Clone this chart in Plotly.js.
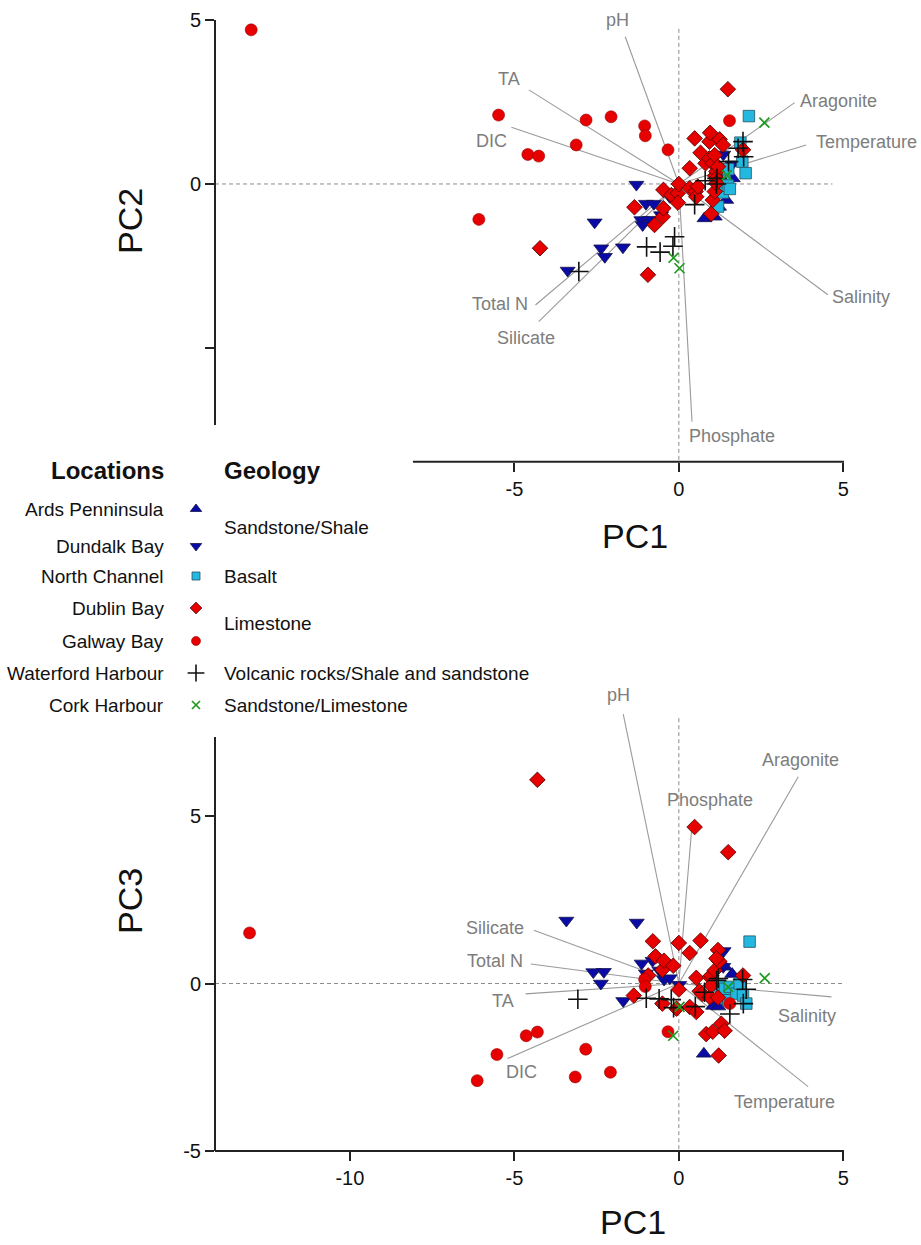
<!DOCTYPE html>
<html><head><meta charset="utf-8">
<script src="https://cdn.plot.ly/plotly-3.0.1.min.js"></script>
<style>html,body{margin:0;padding:0;background:#fff}#chart{width:921px;height:1245px}</style>
</head><body><div id="chart"></div>
<script>
// ---------------- DATA ----------------
const locations = ['Ards Penninsula','Dundalk Bay','North Channel','Dublin Bay','Galway Bay','Waterford Harbour','Cork Harbour'];
const geology = ['Sandstone/Shale','Basalt','Limestone','Volcanic rocks/Shale and sandstone','Sandstone/Limestone'];

// Top panel: PC1 vs PC2
const ardsTopPC1 = [0.78, 1.09, 1.22, 1.44, 1.64];
const ardsTopPC2 = [-1.05, -1.00, -0.70, -0.49, 0.17];
const dundalkTopPC1 = [-3.38, -2.56, -2.36, -2.25, -1.70, -1.29, -1.14, -1.10, -1.00, -0.89, -0.76, -0.54, -0.28, 1.35, 1.62];
const dundalkTopPC2 = [-2.64, -1.17, -1.96, -2.22, -1.93, -0.02, -1.10, -1.25, -0.60, -1.09, -0.60, -0.95, -0.39, 0.90, 0.60];
const northTopPC1 = [1.19, 1.34, 1.40, 1.49, 1.50, 1.55, 1.87, 1.93, 2.03, 2.13];
const northTopPC2 = [-0.69, -0.26, 0.12, -0.05, 0.45, -0.15, 1.26, 0.68, 0.33, 2.07];
const dublinTopPC1 = [-4.22, -1.35, -0.94, -0.74, -0.49, -0.47, -0.47, -0.23, -0.03, -0.03, 0.00, 0.33, 0.33, 0.48, 0.51, 0.53, 0.58, 0.66, 0.81, 0.93, 0.93, 0.95, 0.98, 1.03, 1.03, 1.09, 1.09, 1.10, 1.14, 1.14, 1.14, 1.19, 1.24, 1.34, 1.49, 1.95];
const dublinTopPC2 = [-1.96, -0.71, -2.77, -1.25, -1.00, -0.18, -0.74, -0.34, -0.28, -0.57, 0.00, 0.48, -0.13, 1.39, -0.23, -0.39, -0.08, 0.95, 0.63, 1.29, 0.78, 1.56, -0.91, 0.63, -0.49, 0.88, -0.23, 0.25, 0.38, 0.17, 0.02, 0.53, 1.36, 1.19, 2.89, 1.04];
const galwayTopPC1 = [-13.0, -6.08, -5.48, -4.59, -4.26, -3.12, -2.82, -2.06, -1.04, -1.02, -0.33, 1.54];
const galwayTopPC2 = [4.70, -1.08, 2.10, 0.90, 0.85, 1.19, 1.95, 2.05, 1.77, 1.47, 1.04, 1.93];
const waterfordTopPC1 = [-3.04, -0.98, -0.57, -0.18, -0.13, 0.48, 0.80, 1.14, 1.16, 1.51, 1.80, 1.95, 1.97];
const waterfordTopPC2 = [-2.67, -1.92, -2.08, -1.90, -1.61, -0.63, 0.10, 0.00, 0.17, 0.68, 1.09, 1.29, 0.83];
const corkTopPC1 = [2.60, 1.46, -0.16, 0.02];
const corkTopPC2 = [1.87, 0.27, -2.25, -2.57];

// Bottom panel: PC1 vs PC3
const ardsBotPC1 = [0.76, 1.04, 1.20, 1.40, 1.62];
const ardsBotPC3 = [-2.10, -0.67, -0.69, 0.50, 0.28];
const dundalkBotPC1 = [-3.42, -2.60, -2.37, -2.28, -1.69, -1.28, -1.13, -1.00, -0.80, -0.59, -0.45, -0.28, 0.01, 1.35, 1.36];
const dundalkBotPC3 = [1.88, 0.34, 0.00, 0.35, -0.52, 1.82, 0.60, 0.30, 0.68, 0.39, 0.12, 0.16, -0.04, 0.50, 0.97];
const northBotPC1 = [1.25, 1.35, 1.40, 1.50, 1.55, 1.75, 1.85, 1.95, 2.05, 2.15];
const northBotPC3 = [-0.06, -0.44, -0.16, -0.50, -0.10, -0.30, 0.00, -0.36, -0.60, 1.25];
const dublinBotPC1 = [-4.30, -1.37, -0.93, -0.79, -0.71, -0.50, -0.50, -0.45, -0.17, -0.07, 0.00, 0.00, 0.33, 0.33, 0.48, 0.53, 0.53, 0.63, 0.66, 0.71, 0.83, 0.94, 0.94, 0.98, 0.98, 1.03, 1.09, 1.19, 1.19, 1.21, 1.23, 1.29, 1.39, 1.50, 1.95, 1.14];
const dublinBotPC3 = [6.08, -0.36, 0.24, 1.26, 0.81, 0.41, -0.60, 0.68, 0.53, -0.75, 1.21, -0.18, 0.91, -0.70, 4.67, 0.17, -0.85, -0.23, 1.28, -0.31, -1.51, -0.41, 0.19, 0.24, -0.06, -1.44, 0.39, 1.00, -0.42, -2.15, 0.66, -1.20, -1.41, 3.92, 0.24, 0.75];
const galwayBotPC1 = [-13.05, -6.13, -5.53, -4.64, -4.30, -3.15, -2.83, -2.08, -1.04, -1.02, -0.33, 1.55];
const galwayBotPC3 = [1.51, -2.90, -2.12, -1.56, -1.45, -2.79, -1.96, -2.65, 0.12, -0.09, -1.44, -0.60];
const waterfordBotPC1 = [-3.07, -0.99, -0.60, -0.23, -0.16, 0.50, 0.78, 1.15, 1.20, 1.55, 1.94, 1.96, 2.05];
const waterfordBotPC3 = [-0.47, -0.44, -0.46, -0.48, -0.72, -0.69, -0.26, 0.09, 0.15, -0.91, 0.12, -0.60, -0.17];
const corkBotPC1 = [2.61, 1.50, -0.17, 0.02];
const corkBotPC3 = [0.16, -0.11, -1.56, -0.70];

// Variable loadings (vectors from origin) and label anchor points
const loadNames = ['pH','TA','DIC','Aragonite','Temperature','Salinity','Phosphate','Total N','Silicate'];
const topLoadPC1 = [-1.63, -4.56, -5.09, 3.52, 3.87, 4.53, 0.40, -4.36, -4.26];
const topLoadPC2 = [4.49, 2.87, 1.73, 2.48, 1.19, -3.38, -7.25, -3.69, -4.20];
const topLabelPC1 = [-1.86, -5.16, -5.70, 4.84, 5.70, 5.55, 1.63, -5.43, -4.64];
const topLabelPC2 = [4.99, 3.20, 1.32, 2.53, 1.29, -3.44, -7.70, -3.67, -4.70];
const botLoadPC1 = [-1.69, -4.66, -5.21, 3.63, 3.93, 4.64, 0.39, -4.50, -4.41];
const botLoadPC3 = [8.04, -0.31, -2.24, 6.17, -3.08, -0.40, 4.61, 0.58, 1.59];
const botLabelPC1 = [-1.84, -5.36, -4.78, 3.70, 3.22, 3.90, 0.94, -5.59, -5.59];
const botLabelPC3 = [8.60, -0.53, -2.65, 6.67, -3.53, -0.98, 5.49, 0.67, 1.67];

// Tick labels
const topXTicks = [-5, 0, 5];
const topYTicks = [-5, 0, 5];
const topYTickText = ['', '0', '5'];
const botXTicks = [-10, -5, 0, 5];
const botYTicks = [-5, 0, 5];

// ---------------- STYLE / LAYOUT ----------------
const W = 921, H = 1245;
const FONT = 'Liberation Sans, Arial, Helvetica, sans-serif';
const px = v => v / W;
const py = v => 1 - v / H;
const RED = '#E60000', BLUE = '#0A0AA6', CYAN = '#22B8E0', GREEN = '#1E9A1E';

const styles = {
  ards:      {symbol:'triangle-up',   size:13, color:BLUE, line:{color:'#15154a', width:0.8}},
  dundalk:   {symbol:'triangle-down', size:13, color:BLUE, line:{color:'#15154a', width:0.8}},
  north:     {symbol:'square',        size:11.5, color:CYAN, line:{color:'#2a5060', width:0.8}},
  dublin:    {symbol:'diamond',       size:12, color:RED,  line:{color:'#4a0000', width:0.8}},
  galway:    {symbol:'circle',        size:12, color:RED, line:{color:'#9a0000', width:0.6}},
  waterford: {symbol:'cross-thin',    size:14, color:'#111', line:{color:'#111', width:1.6}},
  cork:      {symbol:'x-thin',        size:10, color:GREEN, line:{color:GREEN, width:1.7}}
};

function pts(x, y, xa, ya, st) {
  return {type:'scatter', mode:'markers', x:x, y:y, xaxis:xa, yaxis:ya, marker:st,
          cliponaxis:false, hoverinfo:'skip', showlegend:false};
}
function vectors(lx, ly, xa, ya) {
  const x = [], y = [];
  for (let i = 0; i < lx.length; i++) { x.push(0, lx[i], null); y.push(0, ly[i], null); }
  return {type:'scatter', mode:'lines', x:x, y:y, xaxis:xa, yaxis:ya,
          line:{color:'#9a9a9a', width:1.1}, hoverinfo:'skip', showlegend:false};
}

const traces = [
  vectors(topLoadPC1, topLoadPC2, 'x', 'y'),
  vectors(botLoadPC1, botLoadPC3, 'x2', 'y2'),
  pts(ardsTopPC1, ardsTopPC2, 'x', 'y', styles.ards),
  pts(dundalkTopPC1, dundalkTopPC2, 'x', 'y', styles.dundalk),
  pts(northTopPC1, northTopPC2, 'x', 'y', styles.north),
  pts(dublinTopPC1, dublinTopPC2, 'x', 'y', styles.dublin),
  pts(galwayTopPC1, galwayTopPC2, 'x', 'y', styles.galway),
  pts(waterfordTopPC1, waterfordTopPC2, 'x', 'y', styles.waterford),
  pts(corkTopPC1, corkTopPC2, 'x', 'y', styles.cork),
  pts(ardsBotPC1, ardsBotPC3, 'x2', 'y2', styles.ards),
  pts(dundalkBotPC1, dundalkBotPC3, 'x2', 'y2', styles.dundalk),
  pts(northBotPC1, northBotPC3, 'x2', 'y2', styles.north),
  pts(dublinBotPC1, dublinBotPC3, 'x2', 'y2', styles.dublin),
  pts(galwayBotPC1, galwayBotPC3, 'x2', 'y2', styles.galway),
  pts(waterfordBotPC1, waterfordBotPC3, 'x2', 'y2', styles.waterford),
  pts(corkBotPC1, corkBotPC3, 'x2', 'y2', styles.cork)
];

// Custom legend (overlay axis in pixel units)
const legendRowY = [509, 546, 576, 608, 641, 673, 705];
const legendSymX = 196;
const legendStyles = [styles.ards, styles.dundalk, styles.north, styles.dublin, styles.galway, styles.waterford, styles.cork];
const legendSizes = [10, 10, 8, 9, 9, 12, 8];
legendStyles.forEach((st, i) => {
  traces.push({type:'scatter', mode:'markers', x:[legendSymX], y:[legendRowY[i]], xaxis:'x3', yaxis:'y3',
    marker:Object.assign({}, st, {size:legendSizes[i]}), hoverinfo:'skip', showlegend:false, cliponaxis:false});
});

const annotations = [];
loadNames.forEach((n, i) => {
  annotations.push({xref:'x', yref:'y', x:topLabelPC1[i], y:topLabelPC2[i], text:n, showarrow:false,
    xanchor:'center', yanchor:'middle', font:{family:FONT, size:18, color:'#7d7d7d'}});
  annotations.push({xref:'x2', yref:'y2', x:botLabelPC1[i], y:botLabelPC3[i], text:n, showarrow:false,
    xanchor:'center', yanchor:'middle', font:{family:FONT, size:18, color:'#7d7d7d'}});
});
// axis titles
const titleFont = {family:FONT, size:34, color:'#111'};
annotations.push({xref:'paper', yref:'paper', x:px(635), y:py(536), text:'PC1', showarrow:false, xanchor:'center', yanchor:'middle', font:titleFont});
annotations.push({xref:'paper', yref:'paper', x:px(633), y:py(1222), text:'PC1', showarrow:false, xanchor:'center', yanchor:'middle', font:titleFont});
annotations.push({xref:'paper', yref:'paper', x:px(130), y:py(221), text:'PC2', showarrow:false, xanchor:'center', yanchor:'middle', textangle:-90, font:titleFont});
annotations.push({xref:'paper', yref:'paper', x:px(130), y:py(901), text:'PC3', showarrow:false, xanchor:'center', yanchor:'middle', textangle:-90, font:titleFont});
// legend headers and labels
const legFont = {family:FONT, size:19, color:'#111'};
const headFont = {family:FONT, size:24, color:'#111', weight:'bold'};
annotations.push({xref:'paper', yref:'paper', x:px(166), y:py(470), text:'<b>Locations</b>', showarrow:false, xanchor:'right', yanchor:'middle', font:headFont});
annotations.push({xref:'paper', yref:'paper', x:px(222), y:py(470), text:'<b>Geology</b>', showarrow:false, xanchor:'left', yanchor:'middle', font:headFont});
locations.forEach((n, i) => {
  annotations.push({xref:'paper', yref:'paper', x:px(166), y:py(legendRowY[i]), text:n, showarrow:false, xanchor:'right', yanchor:'middle', font:legFont});
});
const geologyRowY = [527, 576, 623, 673, 705];
geology.forEach((n, i) => {
  annotations.push({xref:'paper', yref:'paper', x:px(222), y:py(geologyRowY[i]), text:n, showarrow:false, xanchor:'left', yanchor:'middle', font:legFont});
});

// Axis lines (offset axes) and dashed zero lines
const AX = {color:'#222', width:2};
const DASH = {color:'#8c8c8c', width:1, dash:'4px,3px'};
const shapes = [
  {type:'line', xref:'paper', yref:'paper', x0:px(413), x1:px(844), y0:py(461.7), y1:py(461.7), line:AX},
  {type:'line', xref:'paper', yref:'paper', x0:px(215), x1:px(215), y0:py(20), y1:py(425), line:AX},
  {type:'line', xref:'paper', yref:'paper', x0:px(215), x1:px(844), y0:py(1151), y1:py(1151), line:AX},
  {type:'line', xref:'paper', yref:'paper', x0:px(215), x1:px(215), y0:py(737), y1:py(1151), line:AX},
  {type:'line', xref:'x', yref:'y', x0:-14.1, x1:4.67, y0:0, y1:0, line:DASH, layer:'below'},
  {type:'line', xref:'x', yref:'y', x0:0, x1:0, y0:4.73, y1:-8.47, line:DASH, layer:'below'},
  {type:'line', xref:'x2', yref:'y2', x0:-14.1, x1:5, y0:0, y1:0, line:DASH, layer:'below'},
  {type:'line', xref:'x2', yref:'y2', x0:0, x1:0, y0:7.92, y1:-5, line:DASH, layer:'below'}
];

const tickCommon = {showline:false, showgrid:false, zeroline:false, ticks:'outside', ticklen:9, tickwidth:2,
  tickcolor:'#222', tickfont:{family:FONT, size:20, color:'#111'}, fixedrange:true};

const layout = {
  width:W, height:H, margin:{l:0, r:0, t:0, b:0}, paper_bgcolor:'#fff', plot_bgcolor:'rgba(0,0,0,0)',
  font:{family:FONT}, showlegend:false,
  xaxis: Object.assign({}, tickCommon, {domain:[px(215), px(919)], range:[-14.1, 7.3], anchor:'y',
    tickvals:topXTicks, ticktext:topXTicks.map(String)}),
  yaxis: Object.assign({}, tickCommon, {domain:[py(461.7), py(6.9)], range:[-8.47, 5.4], anchor:'x',
    tickvals:topYTicks, ticktext:topYTickText}),
  xaxis2: Object.assign({}, tickCommon, {domain:[px(215), px(919)], range:[-14.1, 7.3], anchor:'y2',
    tickvals:botXTicks, ticktext:botXTicks.map(String)}),
  yaxis2: Object.assign({}, tickCommon, {domain:[py(1151), py(682)], range:[-5, 9.0], anchor:'x2',
    tickvals:botYTicks, ticktext:botYTicks.map(String)}),
  xaxis3: {domain:[0,1], range:[0, W], anchor:'y3', visible:false, fixedrange:true},
  yaxis3: {domain:[0,1], range:[H, 0], anchor:'x3', visible:false, fixedrange:true},
  shapes: shapes,
  annotations: annotations
};

Plotly.newPlot('chart', traces, layout, {staticPlot:true, displayModeBar:false});
</script></body></html>
